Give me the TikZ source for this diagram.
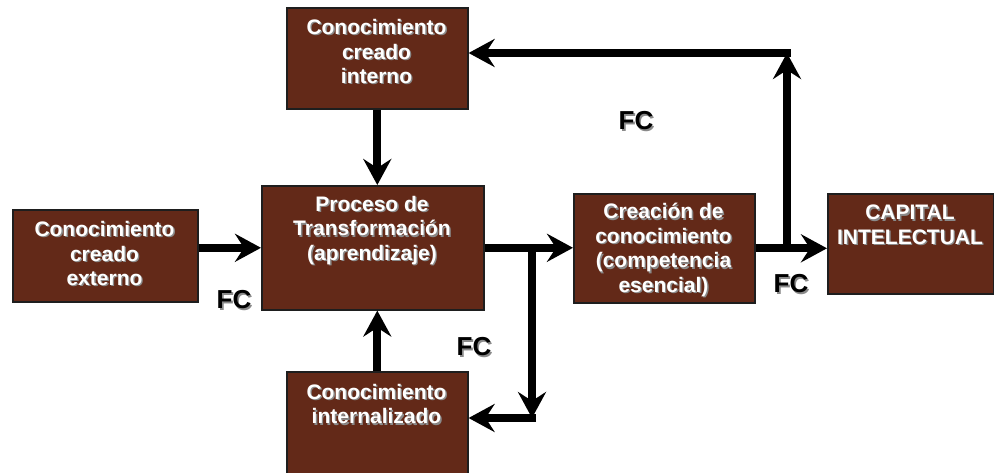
\documentclass[tikz,border=0pt]{standalone}
\usepackage{fontspec}
\setmainfont{Liberation Sans}
\usetikzlibrary{arrows.meta,calc}
\definecolor{boxbrown}{HTML}{632918}
\definecolor{boxedge}{HTML}{1E1E1E}
\definecolor{shadowgray}{HTML}{8A8A8A}
\newcommand{\shtext}[3]{%
  \node[txt,text=shadowgray] at ($(#2)+(1.4,1.4)$) {#3};
  \node[txt] (#1) at (#2) {#3};}
\newcommand{\shfc}[3]{%
  \node[fc,text=shadowgray] at ($(#2)+(1.6,1.6)$) {#3};
  \node[fc] (#1) at (#2) {#3};}
\begin{document}
\begin{tikzpicture}[x=1pt,y=-1pt,
  box/.style={draw=boxedge,line width=1.6pt,fill=boxbrown,inner sep=0pt,anchor=north west},
  txt/.style={text=white,font=\fontsize{21}{24.5}\selectfont\bfseries,align=center,inner sep=0pt},
  fc/.style={text=black,font=\fontsize{26}{28}\selectfont\bfseries,inner sep=0pt},
  conn/.style={draw=black,line width=8pt},
  arr/.style={conn,-{Stealth[length=26pt,width=28pt,inset=9pt]}}]
\useasboundingbox (0,0) rectangle (994,472);

% boxes
\node[box,minimum width=181pt,minimum height=101pt] (interno) at (286,7) {};
\node[box,minimum width=222pt,minimum height=124pt] (proceso) at (261,185) {};
\node[box,minimum width=185pt,minimum height=92pt] (externo) at (12,209) {};
\node[box,minimum width=181pt,minimum height=104pt] (internalizado) at (286,371) {};
\node[box,minimum width=181pt,minimum height=109pt] (creacion) at (573,193) {};
\node[box,minimum width=166pt,minimum height=100pt] (capital) at (827,193) {};

% texts
\shtext{tinterno}{376.5,51.5}{Conocimiento\\creado\\interno}
\shtext{tproceso}{372,230.5}{Proceso de\\Transformación\\(aprendizaje)}
\shtext{texterno}{104.5,253.5}{Conocimiento\\creado\\externo}
\shtext{tinternalizado}{376.5,404}{Conocimiento\\internalizado}
\shtext{tcreacion}{663.5,250}{Creación de\\conocimiento\\(competencia\\esencial)}
\shtext{tcapital}{910,225}{CAPITAL\\INTELECTUAL}

% FC labels
\shfc{fc1}{234,300}{FC}
\shfc{fc2}{636,121}{FC}
\shfc{fc3}{474,347}{FC}
\shfc{fc4}{791,284}{FC}

% junction coordinates
\coordinate (j1) at (532,247);
\coordinate (j1b) at (532,418);
\coordinate (j2) at (787,247.5);
\coordinate (j2t) at (787,53);

% connectors
\draw[arr] (interno.south) -- (interno.south |- proceso.north);
\draw[arr] (internalizado.north) -- (internalizado.north |- proceso.south);
\draw[arr] (externo.east |- proceso.east) -- (proceso.west);
\draw[arr] (proceso.east) -- (proceso.east -| creacion.west);
\draw[arr] (creacion.east) -- (creacion.east -| capital.west);
\draw[arr] (j1) -- (j1b);
\draw[arr] ($(j1b)+(4,0)$) -- (internalizado.east |- j1b);
\draw[arr] (j2) -- (j2t);
\draw[arr] ($(j2t)+(4,0)$) -- (interno.east |- j2t);
\end{tikzpicture}
\end{document}
